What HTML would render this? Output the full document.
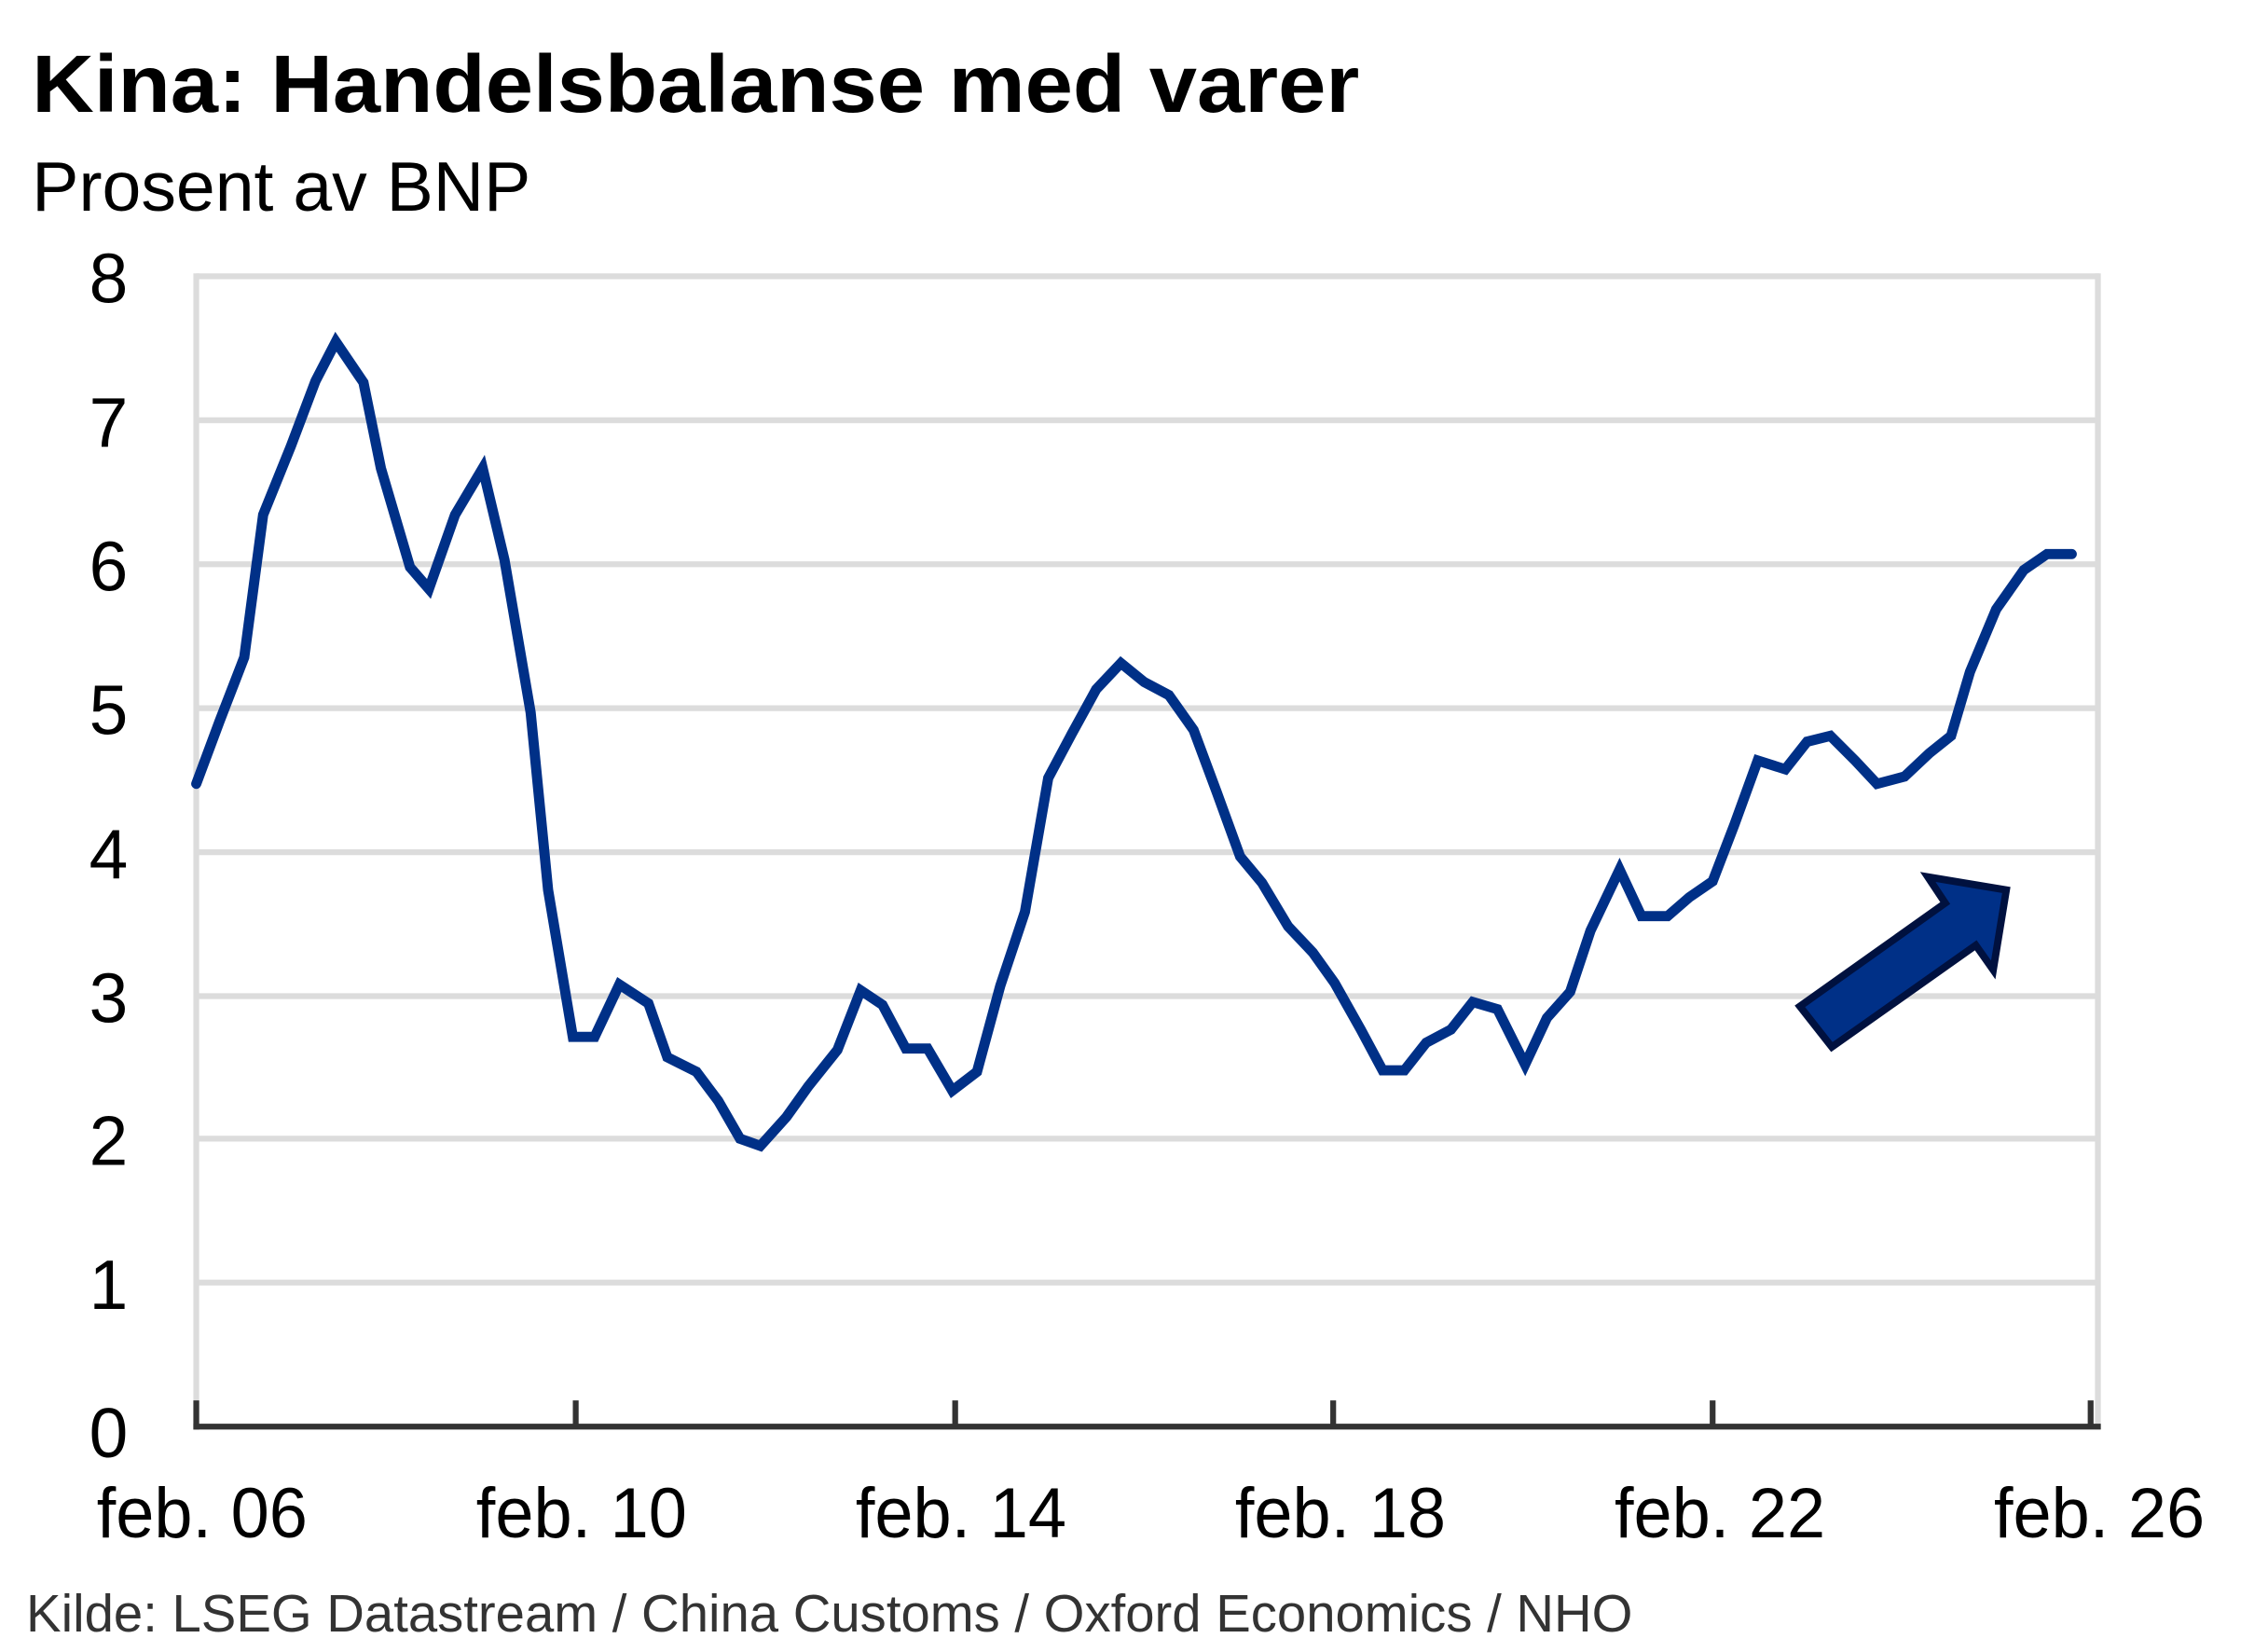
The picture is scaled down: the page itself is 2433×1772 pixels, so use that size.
<!DOCTYPE html>
<html><head><meta charset="utf-8"><style>html,body{margin:0;padding:0;background:#fff}svg{display:block}</style></head>
<body>
<svg width="2433" height="1772" viewBox="0 0 1560 1136" preserveAspectRatio="none" xmlns="http://www.w3.org/2000/svg" font-family="Liberation Sans, sans-serif">
<rect width="1560" height="1136" fill="#fff"/>
<text x="22" y="77" font-size="56" font-weight="bold" textLength="913" lengthAdjust="spacingAndGlyphs">Kina: Handelsbalanse med varer</text>
<text x="22" y="145" font-size="48" textLength="343" lengthAdjust="spacingAndGlyphs">Prosent av BNP</text>
<g stroke="#dcdcdc" stroke-width="4">
<line x1="135" y1="190" x2="1444" y2="190"/>
<line x1="135" y1="289" x2="1442" y2="289"/>
<line x1="135" y1="388" x2="1442" y2="388"/>
<line x1="135" y1="487" x2="1442" y2="487"/>
<line x1="135" y1="586" x2="1442" y2="586"/>
<line x1="135" y1="685" x2="1442" y2="685"/>
<line x1="135" y1="783" x2="1442" y2="783"/>
<line x1="135" y1="882" x2="1442" y2="882"/>
<line x1="135" y1="188" x2="135" y2="981"/>
<line x1="1443" y1="188" x2="1443" y2="983"/>
</g>
<g stroke="#333" stroke-width="4">
<line x1="133" y1="981" x2="1445" y2="981"/>
<line x1="135" y1="963" x2="135" y2="983"/>
<line x1="396" y1="963" x2="396" y2="981"/>
<line x1="657" y1="963" x2="657" y2="981"/>
<line x1="917" y1="963" x2="917" y2="981"/>
<line x1="1178" y1="963" x2="1178" y2="981"/>
<line x1="1438" y1="963" x2="1438" y2="981"/>
</g>
<g font-size="48" text-anchor="end">
<text x="88" y="208">8</text><text x="88" y="307">7</text><text x="88" y="406">6</text><text x="88" y="505">5</text><text x="88" y="604">4</text><text x="88" y="703">3</text><text x="88" y="801">2</text><text x="88" y="900">1</text><text x="88" y="1002">0</text>
</g>
<g font-size="49" text-anchor="middle">
<text x="139" y="1057" textLength="145" lengthAdjust="spacingAndGlyphs">feb. 06</text>
<text x="400" y="1057" textLength="145" lengthAdjust="spacingAndGlyphs">feb. 10</text>
<text x="661" y="1057" textLength="145" lengthAdjust="spacingAndGlyphs">feb. 14</text>
<text x="922" y="1057" textLength="145" lengthAdjust="spacingAndGlyphs">feb. 18</text>
<text x="1183" y="1057" textLength="145" lengthAdjust="spacingAndGlyphs">feb. 22</text>
<text x="1444" y="1057" textLength="145" lengthAdjust="spacingAndGlyphs">feb. 26</text>
</g>
<text x="18" y="1122" font-size="36" fill="#333" textLength="1105" lengthAdjust="spacingAndGlyphs">Kilde: LSEG Datastream / China Customs / Oxford Economics / NHO</text>
<polyline fill="none" stroke="#003087" stroke-width="7" stroke-linejoin="miter" stroke-linecap="round" points="135,539 151,496 168,452 181,354 200,307 217,262 231,235 250,263 262,322 282,390 295,405 313,354 332,322 347,385 365,490 377,612 394,713 409,713 426,677 446,690 459,727 479,737 494,757 509,783 523,788 541,768 556,747 576,722 592,681 607,691 623,721 638,721 655,750 672,737 688,678 705,627 721,535 737,505 754,474 771,456 787,469 804,478 821,502 837,545 853,589 868,607 886,637 903,655 918,676 936,708 951,736 966,736 981,717 998,708 1013,689 1030,694 1049,732 1064,700 1080,682 1094,640 1114,598 1129,630 1147,630 1162,617 1178,606 1193,567 1209,523 1228,529 1243,510 1259,506 1276,523 1291,539 1310,534 1327,518 1342,506 1355,462 1373,419 1392,392 1408,381 1425,381"/>
<polygon fill="#003087" stroke="#00113f" stroke-width="5" stroke-linejoin="miter" points="1238,692 1338,621 1326,603 1380,612 1371,667 1359,650 1260,720"/>
</svg>
</body></html>
